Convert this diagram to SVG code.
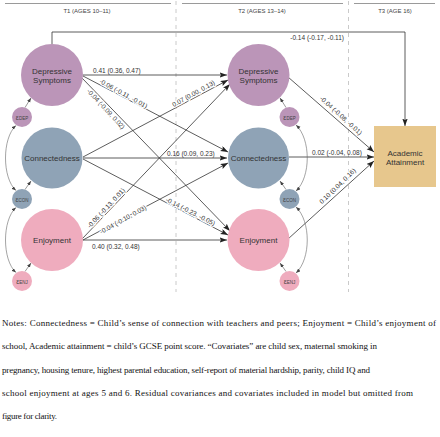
<svg xmlns="http://www.w3.org/2000/svg" width="440" height="437" viewBox="0 0 440 437">
<style>
.hdr{font-family:"Liberation Sans",Arial,sans-serif;font-size:6px;fill:#444;text-anchor:middle}
.rule{stroke:#9a9a9a;stroke-width:1;fill:none}
.div{stroke:#bdbdbd;stroke-width:0.8;stroke-dasharray:4 4;fill:none}
.dep{fill:#bb95b8}
.con{fill:#8fa3b6}
.enj{fill:#efacbe}
.box{fill:#e7c78d}
.nl{font-family:"Liberation Sans",Arial,sans-serif;font-size:8px;fill:#333;text-anchor:middle}
.el{font-family:"Liberation Sans",Arial,sans-serif;font-size:7px;fill:#444;text-anchor:middle}
.path{stroke:#333;stroke-width:0.8;fill:none;marker-end:url(#ah)}
.cov{stroke:#666;stroke-width:0.6;fill:none;marker-end:url(#sa);marker-start:url(#sa)}
.res{stroke:#555;stroke-width:0.6;fill:none;marker-end:url(#sa)}
.lb{font-family:"Liberation Sans",Arial,sans-serif;font-size:6.5px;fill:#333}
.lbh{font-family:"Liberation Sans",Arial,sans-serif;font-size:6.5px;fill:#333;text-anchor:middle;stroke:#fff;stroke-width:2.5px;paint-order:stroke;stroke-linejoin:round}
.note{font-family:"Liberation Serif","Times New Roman",serif;font-size:9px;fill:#111}
</style>
<defs>
<marker id="ah" markerUnits="userSpaceOnUse" markerWidth="8" markerHeight="6" refX="7.5" refY="2.75" orient="auto">
<path d="M0,0 L7.5,2.75 L0,5.5 L1.5,2.75 z" fill="#222"/>
</marker>
<marker id="sa" markerUnits="userSpaceOnUse" markerWidth="5" markerHeight="4" refX="4.5" refY="1.75" orient="auto-start-reverse">
<path d="M0,0 L4.5,1.75 L0,3.5 z" fill="#444"/>
</marker>
</defs>
<rect width="440" height="437" fill="#fff"/>
<g id="header">
<line class="rule" x1="5" y1="3.5" x2="171" y2="3.5"/>
<line class="rule" x1="182" y1="3.5" x2="343" y2="3.5"/>
<line class="rule" x1="354" y1="3.5" x2="435" y2="3.5"/>
<line class="div" x1="176" y1="1" x2="176" y2="292"/>
<line class="div" x1="348.5" y1="1" x2="348.5" y2="292"/>
<text class="hdr" x="87" y="13">T1 (AGES 10–11)</text>
<text class="hdr" x="262" y="13">T2 (AGES 13–14)</text>
<text class="hdr" x="395" y="13">T3 (AGE 16)</text>
</g>
<g id="connectors">
<path class="path" d="M52,44 V32 H405 V126"/>
<line class="path" x1="83" y1="75" x2="227" y2="75"/>
<line class="path" x1="83" y1="76" x2="228" y2="152"/>
<line class="path" x1="82" y1="78" x2="230" y2="231"/>
<line class="path" x1="83" y1="157" x2="228" y2="80"/>
<line class="path" x1="83" y1="158" x2="227" y2="158"/>
<line class="path" x1="83" y1="159" x2="228" y2="235"/>
<line class="path" x1="82" y1="239" x2="230" y2="84"/>
<line class="path" x1="83" y1="240" x2="228" y2="163"/>
<line class="path" x1="83" y1="240" x2="227" y2="240"/>
<line class="path" x1="288" y1="77" x2="374" y2="152"/>
<line class="path" x1="289" y1="157" x2="374" y2="157"/>
<line class="path" x1="288" y1="239" x2="374" y2="161"/>
<path class="cov" d="M16,125.5 C2,138 2,178 16,190.5"/>
<path class="cov" d="M16,207.5 C2,220 2,260 16,272.5"/>
<path class="cov" d="M296,125 C311,139 311,177 296,191"/>
<path class="cov" d="M296,207 C311,221 311,259 296,273"/>
<line class="res" x1="25" y1="107.5" x2="31" y2="98"/>
<line class="res" x1="25" y1="189.5" x2="31" y2="181"/>
<line class="res" x1="25" y1="271.5" x2="31" y2="263"/>
<line class="res" x1="286" y1="107.5" x2="280" y2="98"/>
<line class="res" x1="286" y1="189.5" x2="280" y2="181"/>
<line class="res" x1="286" y1="271.5" x2="280" y2="263"/>
<text class="lb" x="344" y="39.5" text-anchor="end">-0.14 (-0.17, -0.11)</text>
<text class="lb" x="93" y="72.5">0.41 (0.36, 0.47)</text>
<text class="lb" x="167" y="155.5">0.16 (0.09, 0.23)</text>
<text class="lb" x="92" y="248.5">0.40 (0.32, 0.48)</text>
<text class="lb" x="312" y="155">0.02 (-0.04, 0.08)</text>
<text class="lbh" transform="translate(123.5,93.5) rotate(29)" y="2.3">-0.06 (-0.11, -0.01)</text>
<text class="lbh" transform="translate(106,109) rotate(47)" y="2.3">-0.04 (-0.09, 0.02)</text>
<text class="lbh" transform="translate(193.5,93.5) rotate(-29)" y="2.3">0.07 (0.00, 0.13)</text>
<text class="lbh" transform="translate(190.5,211.5) rotate(27)" y="2.3">-0.14 (-0.23, -0.05)</text>
<text class="lbh" transform="translate(106,208) rotate(-47)" y="2.3">-0.06 (-0.13, 0.01)</text>
<text class="lbh" transform="translate(123,219.5) rotate(-29)" y="2.3">-0.04 (-0.10, 0.03)</text>
<text class="lbh" transform="translate(341,115.5) rotate(42)" y="2.3">-0.04 (-0.08, -0.01)</text>
<text class="lbh" transform="translate(337.5,186) rotate(-44)" y="2.3">0.10 (0.04, 0.16)</text>
</g>
<g id="dep1"><circle class="dep" cx="52" cy="75" r="31"/><text class="nl" x="52" y="73.5">Depressive</text><text class="nl" x="52" y="82.5">Symptoms</text></g>
<g id="con1"><circle class="con" cx="52" cy="158" r="30.5"/><text class="nl" x="52" y="161">Connectedness</text></g>
<g id="enj1"><circle class="enj" cx="52" cy="240" r="31"/><text class="nl" x="52" y="243">Enjoyment</text></g>
<g id="edep1"><circle class="dep" cx="22" cy="117" r="10"/><text class="el" x="22" y="119.5">ε<tspan font-size="4.5">DEP</tspan></text></g>
<g id="econ1"><circle class="con" cx="22" cy="199" r="10"/><text class="el" x="22" y="201.5">ε<tspan font-size="4.5">CON</tspan></text></g>
<g id="eenj1"><circle class="enj" cx="22" cy="281" r="10"/><text class="el" x="22" y="283.5">ε<tspan font-size="4.5">ENJ</tspan></text></g>
<g id="dep2"><circle class="dep" cx="258.5" cy="75" r="31"/><text class="nl" x="258.5" y="73.5">Depressive</text><text class="nl" x="258.5" y="82.5">Symptoms</text></g>
<g id="con2"><circle class="con" cx="258.5" cy="158" r="30.5"/><text class="nl" x="258.5" y="161">Connectedness</text></g>
<g id="enj2"><circle class="enj" cx="258.5" cy="240" r="31"/><text class="nl" x="258.5" y="243">Enjoyment</text></g>
<g id="edep2"><circle class="dep" cx="289.5" cy="117" r="10"/><text class="el" x="289.5" y="119.5">ε<tspan font-size="4.5">DEP</tspan></text></g>
<g id="econ2"><circle class="con" cx="289.5" cy="199" r="10"/><text class="el" x="289.5" y="201.5">ε<tspan font-size="4.5">CON</tspan></text></g>
<g id="eenj2"><circle class="enj" cx="289.5" cy="281" r="10"/><text class="el" x="289.5" y="283.5">ε<tspan font-size="4.5">ENJ</tspan></text></g>
<g id="academic"><rect class="box" x="374" y="126" width="62" height="61"/><text class="nl" x="405" y="156">Academic</text><text class="nl" x="405" y="165">Attainment</text></g>
<g id="notes">
<text class="note" x="2" y="326" textLength="434" lengthAdjust="spacing">Notes: Connectedness = Child’s sense of connection with teachers and peers; Enjoyment = Child’s enjoyment of</text>
<text class="note" x="2" y="349.3" textLength="375" lengthAdjust="spacing">school, Academic attainment = child’s GCSE point score. “Covariates” are child sex, maternal smoking in</text>
<text class="note" x="2" y="372.6" textLength="368" lengthAdjust="spacing">pregnancy, housing tenure, highest parental education, self-report of material hardship, parity, child IQ and</text>
<text class="note" x="2" y="395.5" textLength="411" lengthAdjust="spacing">school enjoyment at ages 5 and 6. Residual covariances and covariates included in model but omitted from</text>
<text class="note" x="2" y="418.5" textLength="55" lengthAdjust="spacing">figure for clarity.</text>
</g>
</svg>
